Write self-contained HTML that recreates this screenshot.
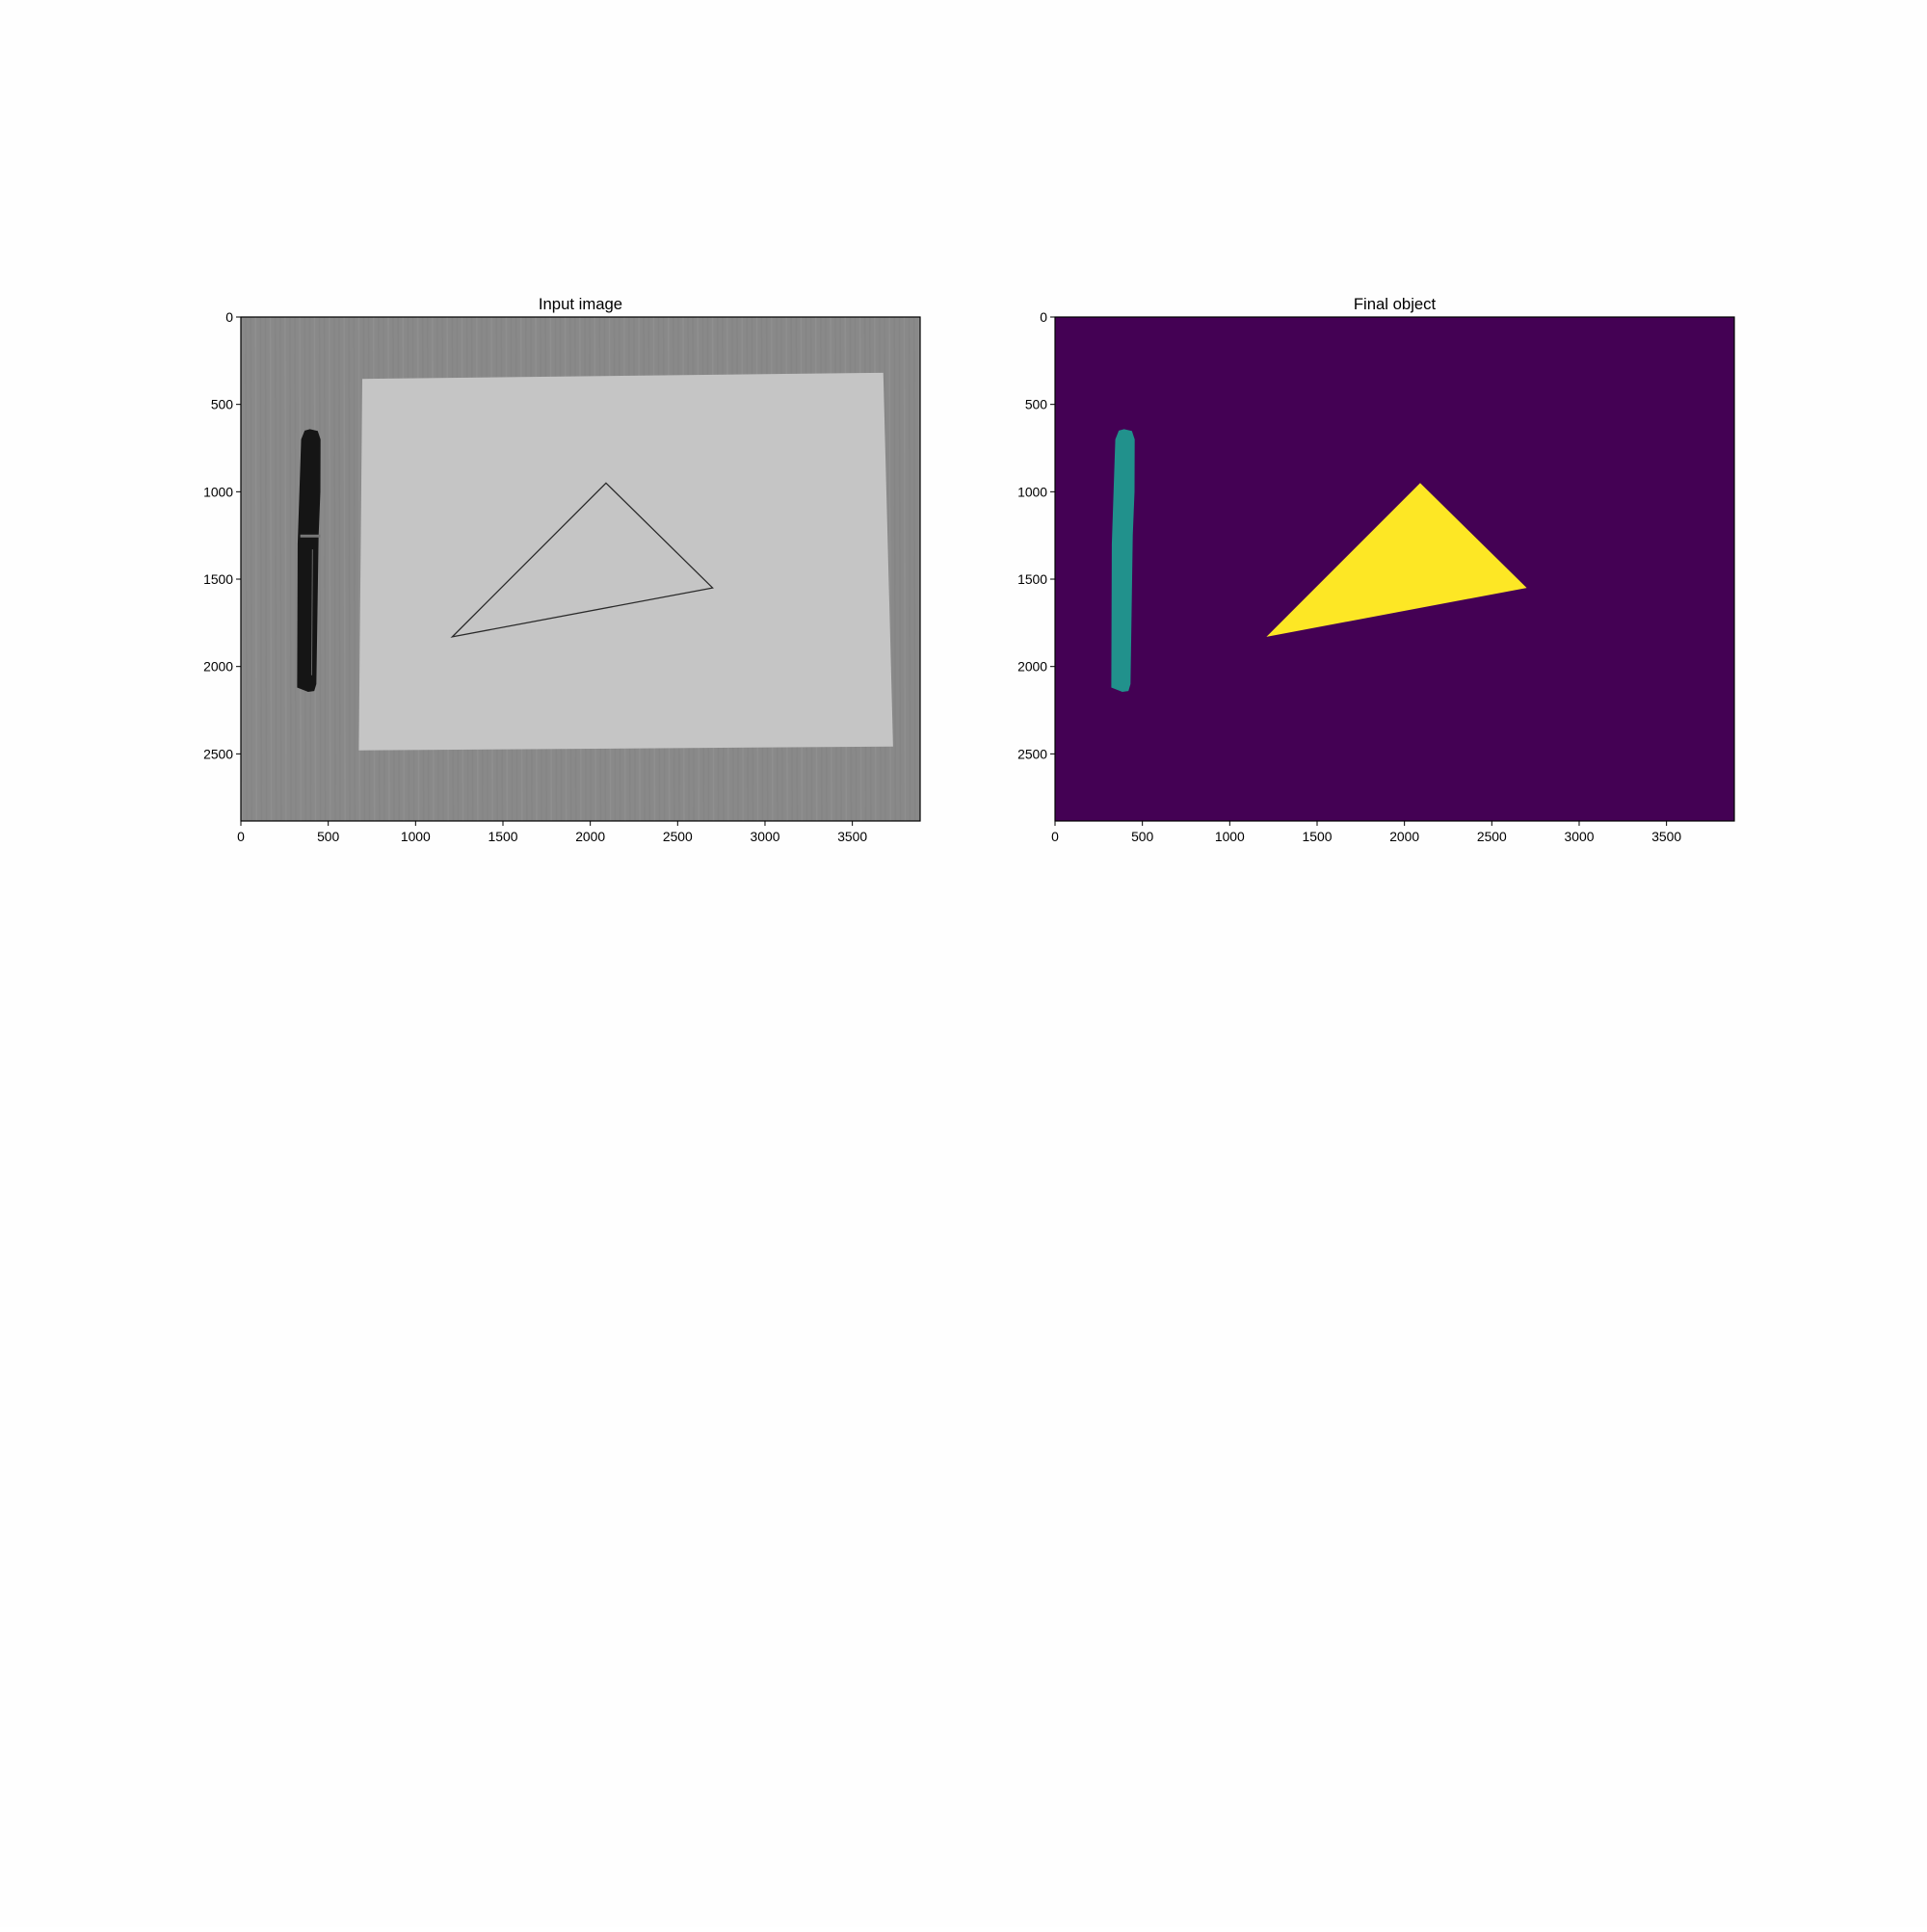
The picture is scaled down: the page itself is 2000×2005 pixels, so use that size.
<!DOCTYPE html>
<html><head><meta charset="utf-8">
<style>
html,body{margin:0;padding:0;background:#fff;}
svg text{font-family:"Liberation Sans","DejaVu Sans",sans-serif;}
</style></head>
<body>
<svg id="fig" width="2000" height="2000" viewBox="0 0 2000 2000" xmlns="http://www.w3.org/2000/svg">
<rect width="2000" height="2000" fill="#fefefe"/>
</svg>
<script>
const imgW = 3888, imgH = 2884;
const xTicks = [0, 500, 1000, 1500, 2000, 2500, 3000, 3500];
const yTicks = [0, 500, 1000, 1500, 2000, 2500];
const titles = ["Input image", "Final object"];
// data coordinates (image pixels)
const paperX = [695, 3677, 3733, 675];
const paperY = [354, 319, 2458, 2480];
const triX = [2090, 2700, 1210];
const triY = [950, 1550, 1830];
const penX = [365, 395, 440, 456, 455, 445, 432, 420, 385, 322, 325, 335, 345];
const penY = [650, 642, 652, 700, 1000, 1250, 2100, 2140, 2145, 2120, 1300, 1000, 700];
const capY = [640, 1245];
const penBodyX = [340, 455];

const NS = "http://www.w3.org/2000/svg";
const svg = document.getElementById("fig");
function mk(tag, attrs, parent) {
  const e = document.createElementNS(NS, tag);
  for (const k in attrs) e.setAttribute(k, attrs[k]);
  (parent || svg).appendChild(e);
  return e;
}
const axesLeft = [250, 1095], axTop = 329, axW = 705, axH = 523;

axesLeft.forEach((L, i) => {
  const sx = v => L + v / imgW * axW;
  const sy = v => axTop + v / imgH * axH;
  const g = mk("g", {});
  
  
  const clipId = "clip" + i;
  const cp = mk("clipPath", {id: clipId}, g);
  mk("rect", {x: L, y: axTop, width: axW, height: axH}, cp);
  const body = mk("g", {"clip-path": "url(#" + clipId + ")"}, g);
  const pts = (xs, ys) => xs.map((x, k) => sx(x) + "," + sy(ys[k])).join(" ");
  if (i === 0) {
    const bg = mk("rect", {x: L, y: axTop, width: axW, height: axH, fill: "#898989"}, body);
    
    
    for (let k = 0; k < 140; k++) {
      mk("line", {x1: L + k * 5.1, y1: axTop, x2: L + k * 5.1 + 1, y2: axTop + axH, stroke: (k % 3 ? "#838383" : "#939393"), "stroke-width": 1.5, opacity: 0.6}, body);
    }
    const paper = mk("polygon", {points: pts(paperX, paperY), fill: "#c5c5c5"}, body);
    
    
    const tri = mk("polygon", {points: pts(triX, triY), fill: "none", stroke: "#2a2a2a", "stroke-width": 1.3}, body);
    
    
    const pen = mk("polygon", {points: pts(penX, penY), fill: "#151515"}, body);
    
    
    mk("rect", {x: sx(penBodyX[0]), y: sy(capY[1]), width: sx(penBodyX[1]) - sx(penBodyX[0]), height: 3, fill: "#777"}, body);
    mk("line", {x1: sx(410), y1: sy(1330), x2: sx(405), y2: sy(2050), stroke: "#666", "stroke-width": 1}, body);
  } else {
    const bg = mk("rect", {x: L, y: axTop, width: axW, height: axH, fill: "#440154"}, body);
    
    
    const pen = mk("polygon", {points: pts(penX, penY), fill: "#21918c"}, body);
    
    
    const tri = mk("polygon", {points: pts(triX, triY), fill: "#fde725"}, body);
    
    
  }
  const frame = mk("rect", {x: L, y: axTop, width: axW, height: axH, fill: "none", stroke: "#000", "stroke-width": 1.2}, g);
  
  
  xTicks.forEach(t => {
    const x = sx(t);
    mk("line", {x1: x, y1: axTop + axH, x2: x, y2: axTop + axH + 5, stroke: "#000", "stroke-width": 1}, g);
    const tx = mk("text", {x: x, y: axTop + axH + 21, "font-size": 13.9, "text-anchor": "middle", fill: "#000"}, g);
    tx.textContent = t;
    
    
  });
  yTicks.forEach(t => {
    const y = sy(t);
    mk("line", {x1: L - 5, y1: y, x2: L, y2: y, stroke: "#000", "stroke-width": 1}, g);
    const tx = mk("text", {x: L - 8, y: y + 5, "font-size": 13.9, "text-anchor": "end", fill: "#000"}, g);
    tx.textContent = t;
    
    
  });
  const ti = mk("text", {x: L + axW / 2, y: axTop - 8, "font-size": 16.7, "text-anchor": "middle", fill: "#000"}, g);
  ti.textContent = titles[i];
  
  
});
</script>
</body></html>
